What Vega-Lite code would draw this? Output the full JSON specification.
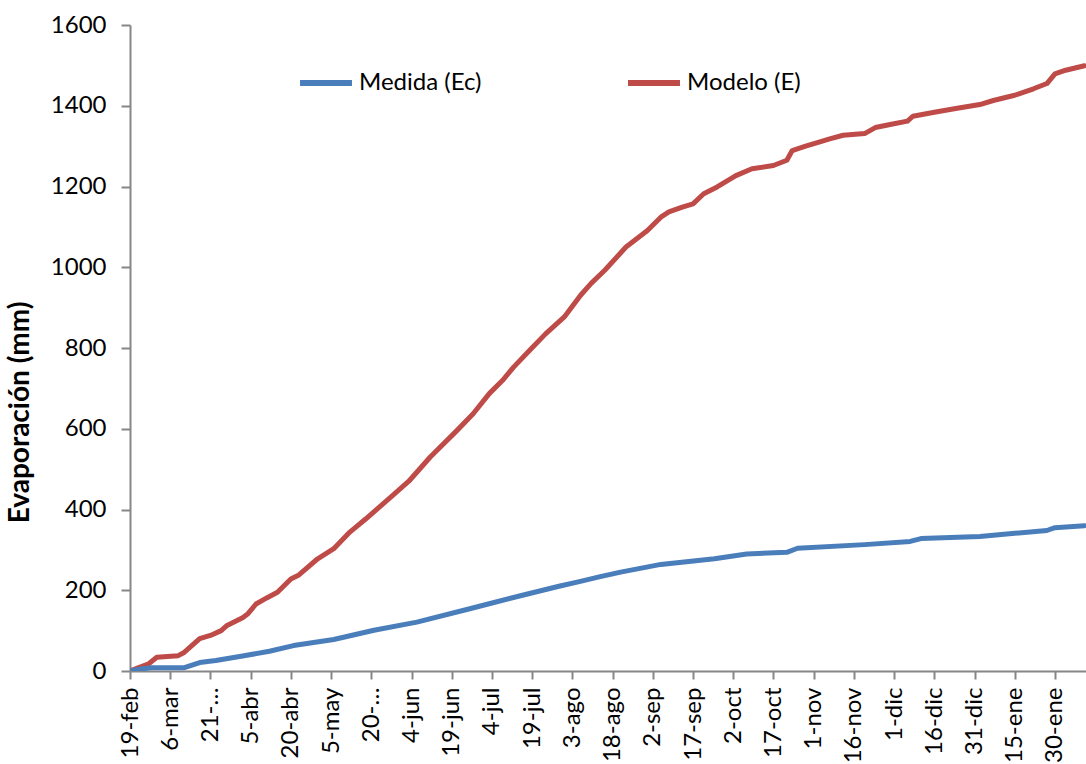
{
  "$schema": "https://vega.github.io/schema/vega-lite/v6.json",
  "width": 956,
  "height": 646,
  "autosize": {"type": "none"},
  "padding": {"left": 130, "top": 25, "right": 0, "bottom": 93},
  "background": "white",
  "data": {
    "values": [
      {"serie": "Modelo (E)", "fecha": "2013/02/19", "evap": 0},
      {"serie": "Modelo (E)", "fecha": "2013/02/23", "evap": 10},
      {"serie": "Modelo (E)", "fecha": "2013/02/26", "evap": 18},
      {"serie": "Modelo (E)", "fecha": "2013/03/01", "evap": 34},
      {"serie": "Modelo (E)", "fecha": "2013/03/09", "evap": 38},
      {"serie": "Modelo (E)", "fecha": "2013/03/11", "evap": 45},
      {"serie": "Modelo (E)", "fecha": "2013/03/17", "evap": 80},
      {"serie": "Modelo (E)", "fecha": "2013/03/21", "evap": 88},
      {"serie": "Modelo (E)", "fecha": "2013/03/25", "evap": 100},
      {"serie": "Modelo (E)", "fecha": "2013/03/27", "evap": 112},
      {"serie": "Modelo (E)", "fecha": "2013/04/02", "evap": 132},
      {"serie": "Modelo (E)", "fecha": "2013/04/04", "evap": 142},
      {"serie": "Modelo (E)", "fecha": "2013/04/07", "evap": 166},
      {"serie": "Modelo (E)", "fecha": "2013/04/11", "evap": 181},
      {"serie": "Modelo (E)", "fecha": "2013/04/15", "evap": 195},
      {"serie": "Modelo (E)", "fecha": "2013/04/20", "evap": 228},
      {"serie": "Modelo (E)", "fecha": "2013/04/23", "evap": 238},
      {"serie": "Modelo (E)", "fecha": "2013/04/30", "evap": 278},
      {"serie": "Modelo (E)", "fecha": "2013/05/06", "evap": 303},
      {"serie": "Modelo (E)", "fecha": "2013/05/12", "evap": 344},
      {"serie": "Modelo (E)", "fecha": "2013/05/18", "evap": 377},
      {"serie": "Modelo (E)", "fecha": "2013/05/23", "evap": 406},
      {"serie": "Modelo (E)", "fecha": "2013/05/28", "evap": 435},
      {"serie": "Modelo (E)", "fecha": "2013/06/03", "evap": 470},
      {"serie": "Modelo (E)", "fecha": "2013/06/11", "evap": 530},
      {"serie": "Modelo (E)", "fecha": "2013/06/21", "evap": 596},
      {"serie": "Modelo (E)", "fecha": "2013/06/27", "evap": 637},
      {"serie": "Modelo (E)", "fecha": "2013/07/03", "evap": 687},
      {"serie": "Modelo (E)", "fecha": "2013/07/08", "evap": 720},
      {"serie": "Modelo (E)", "fecha": "2013/07/12", "evap": 752},
      {"serie": "Modelo (E)", "fecha": "2013/07/18", "evap": 794},
      {"serie": "Modelo (E)", "fecha": "2013/07/24", "evap": 835},
      {"serie": "Modelo (E)", "fecha": "2013/07/31", "evap": 877},
      {"serie": "Modelo (E)", "fecha": "2013/08/06", "evap": 930},
      {"serie": "Modelo (E)", "fecha": "2013/08/10", "evap": 960},
      {"serie": "Modelo (E)", "fecha": "2013/08/15", "evap": 992},
      {"serie": "Modelo (E)", "fecha": "2013/08/23", "evap": 1050},
      {"serie": "Modelo (E)", "fecha": "2013/08/31", "evap": 1091},
      {"serie": "Modelo (E)", "fecha": "2013/09/05", "evap": 1124},
      {"serie": "Modelo (E)", "fecha": "2013/09/08", "evap": 1137},
      {"serie": "Modelo (E)", "fecha": "2013/09/13", "evap": 1149},
      {"serie": "Modelo (E)", "fecha": "2013/09/17", "evap": 1157},
      {"serie": "Modelo (E)", "fecha": "2013/09/21", "evap": 1182},
      {"serie": "Modelo (E)", "fecha": "2013/09/26", "evap": 1199},
      {"serie": "Modelo (E)", "fecha": "2013/10/03", "evap": 1227},
      {"serie": "Modelo (E)", "fecha": "2013/10/09", "evap": 1244},
      {"serie": "Modelo (E)", "fecha": "2013/10/17", "evap": 1252},
      {"serie": "Modelo (E)", "fecha": "2013/10/22", "evap": 1265},
      {"serie": "Modelo (E)", "fecha": "2013/10/24", "evap": 1289},
      {"serie": "Modelo (E)", "fecha": "2013/10/29", "evap": 1300},
      {"serie": "Modelo (E)", "fecha": "2013/11/03", "evap": 1310},
      {"serie": "Modelo (E)", "fecha": "2013/11/07", "evap": 1318},
      {"serie": "Modelo (E)", "fecha": "2013/11/12", "evap": 1327},
      {"serie": "Modelo (E)", "fecha": "2013/11/20", "evap": 1331},
      {"serie": "Modelo (E)", "fecha": "2013/11/24", "evap": 1346},
      {"serie": "Modelo (E)", "fecha": "2013/11/30", "evap": 1354},
      {"serie": "Modelo (E)", "fecha": "2013/12/06", "evap": 1362},
      {"serie": "Modelo (E)", "fecha": "2013/12/08", "evap": 1374},
      {"serie": "Modelo (E)", "fecha": "2013/12/16", "evap": 1384},
      {"serie": "Modelo (E)", "fecha": "2013/12/24", "evap": 1393},
      {"serie": "Modelo (E)", "fecha": "2014/01/02", "evap": 1403},
      {"serie": "Modelo (E)", "fecha": "2014/01/07", "evap": 1413},
      {"serie": "Modelo (E)", "fecha": "2014/01/15", "evap": 1426},
      {"serie": "Modelo (E)", "fecha": "2014/01/22", "evap": 1442},
      {"serie": "Modelo (E)", "fecha": "2014/01/27", "evap": 1455},
      {"serie": "Modelo (E)", "fecha": "2014/01/30", "evap": 1479},
      {"serie": "Modelo (E)", "fecha": "2014/02/03", "evap": 1488},
      {"serie": "Modelo (E)", "fecha": "2014/02/10", "evap": 1499},
      {"serie": "Medida (Ec)", "fecha": "2013/02/19", "evap": 0},
      {"serie": "Medida (Ec)", "fecha": "2013/02/23", "evap": 5},
      {"serie": "Medida (Ec)", "fecha": "2013/02/27", "evap": 8},
      {"serie": "Medida (Ec)", "fecha": "2013/03/11", "evap": 8},
      {"serie": "Medida (Ec)", "fecha": "2013/03/17", "evap": 21},
      {"serie": "Medida (Ec)", "fecha": "2013/03/23", "evap": 26},
      {"serie": "Medida (Ec)", "fecha": "2013/04/02", "evap": 37},
      {"serie": "Medida (Ec)", "fecha": "2013/04/12", "evap": 49},
      {"serie": "Medida (Ec)", "fecha": "2013/04/21", "evap": 63},
      {"serie": "Medida (Ec)", "fecha": "2013/05/06", "evap": 78},
      {"serie": "Medida (Ec)", "fecha": "2013/05/21", "evap": 101},
      {"serie": "Medida (Ec)", "fecha": "2013/06/06", "evap": 121},
      {"serie": "Medida (Ec)", "fecha": "2013/06/25", "evap": 153},
      {"serie": "Medida (Ec)", "fecha": "2013/07/15", "evap": 187},
      {"serie": "Medida (Ec)", "fecha": "2013/07/29", "evap": 210},
      {"serie": "Medida (Ec)", "fecha": "2013/08/06", "evap": 222},
      {"serie": "Medida (Ec)", "fecha": "2013/08/13", "evap": 233},
      {"serie": "Medida (Ec)", "fecha": "2013/08/21", "evap": 245},
      {"serie": "Medida (Ec)", "fecha": "2013/09/05", "evap": 264},
      {"serie": "Medida (Ec)", "fecha": "2013/09/25", "evap": 278},
      {"serie": "Medida (Ec)", "fecha": "2013/10/07", "evap": 290},
      {"serie": "Medida (Ec)", "fecha": "2013/10/22", "evap": 294},
      {"serie": "Medida (Ec)", "fecha": "2013/10/26", "evap": 304},
      {"serie": "Medida (Ec)", "fecha": "2013/11/20", "evap": 313},
      {"serie": "Medida (Ec)", "fecha": "2013/12/07", "evap": 321},
      {"serie": "Medida (Ec)", "fecha": "2013/12/11", "evap": 328},
      {"serie": "Medida (Ec)", "fecha": "2014/01/02", "evap": 333},
      {"serie": "Medida (Ec)", "fecha": "2014/01/15", "evap": 341},
      {"serie": "Medida (Ec)", "fecha": "2014/01/27", "evap": 348},
      {"serie": "Medida (Ec)", "fecha": "2014/01/30", "evap": 355},
      {"serie": "Medida (Ec)", "fecha": "2014/02/10", "evap": 360}
    ]
  },
  "mark": {"type": "line", "strokeWidth": 5, "strokeCap": "round", "strokeJoin": "round", "clip": true},
  "encoding": {
    "x": {
      "field": "fecha",
      "type": "temporal",
      "scale": {"domain": [{"year": 2013, "month": 2, "date": 19}, {"year": 2014, "month": 2, "date": 10, "hours": 14}]},
      "axis": {
        "title": null,
        "grid": false,
        "values": [
          {"year": 2013, "month": 2, "date": 19}, {"year": 2013, "month": 3, "date": 6}, {"year": 2013, "month": 3, "date": 21},
          {"year": 2013, "month": 4, "date": 5}, {"year": 2013, "month": 4, "date": 20}, {"year": 2013, "month": 5, "date": 5},
          {"year": 2013, "month": 5, "date": 20}, {"year": 2013, "month": 6, "date": 4}, {"year": 2013, "month": 6, "date": 19},
          {"year": 2013, "month": 7, "date": 4}, {"year": 2013, "month": 7, "date": 19}, {"year": 2013, "month": 8, "date": 3},
          {"year": 2013, "month": 8, "date": 18}, {"year": 2013, "month": 9, "date": 2}, {"year": 2013, "month": 9, "date": 17},
          {"year": 2013, "month": 10, "date": 2}, {"year": 2013, "month": 10, "date": 17}, {"year": 2013, "month": 11, "date": 1},
          {"year": 2013, "month": 11, "date": 16}, {"year": 2013, "month": 12, "date": 1}, {"year": 2013, "month": 12, "date": 16},
          {"year": 2013, "month": 12, "date": 31}, {"year": 2014, "month": 1, "date": 15}, {"year": 2014, "month": 1, "date": 30}
        ],
        "labelExpr": "((date(datum.value) == 21 && month(datum.value) == 2) || (date(datum.value) == 20 && month(datum.value) == 4)) ? date(datum.value) + '-…' : date(datum.value) + '-' + ['ene','feb','mar','abr','may','jun','jul','ago','sep','oct','nov','dic'][month(datum.value)]",
        "labelAngle": 270,
        "labelFont": "Lato",
        "labelFontSize": 24,
        "labelColor": "#000000",
        "labelPadding": 8,
        "labelOverlap": false,
        "labelFlush": false,
        "tickSize": 8,
        "tickColor": "#868686",
        "tickWidth": 2,
        "domainColor": "#868686",
        "domainWidth": 2
      }
    },
    "y": {
      "field": "evap",
      "type": "quantitative",
      "scale": {"domain": [0, 1600], "nice": false},
      "axis": {
        "title": "Evaporación (mm)",
        "titleFont": "Lato",
        "titleFontSize": 28,
        "titleFontWeight": "bold",
        "titleColor": "#000000",
        "titleX": -110,
        "titleY": 387,
        "titleAngle": 270,
        "titleAlign": "center",
        "titleBaseline": "middle",
        "grid": false,
        "format": "d",
        "values": [0, 200, 400, 600, 800, 1000, 1200, 1400, 1600],
        "labelFont": "Lato",
        "labelFontSize": 24,
        "labelColor": "#000000",
        "labelPadding": 15,
        "tickSize": 9,
        "tickColor": "#868686",
        "tickWidth": 2,
        "domainColor": "#868686",
        "domainWidth": 2
      }
    },
    "color": {
      "field": "serie",
      "type": "nominal",
      "scale": {"domain": ["Medida (Ec)", "Modelo (E)"], "range": ["#4A7EBB", "#BE4B48"]},
      "legend": {
        "title": null,
        "orient": "none",
        "legendX": 167,
        "legendY": 29,
        "direction": "horizontal",
        "symbolType": "stroke",
        "symbolSize": 2700,
        "symbolStrokeWidth": 6,
        "labelFont": "Lato",
        "labelFontSize": 24,
        "labelColor": "#000000",
        "labelOffset": 4,
        "columnPadding": 134
      }
    }
  },
  "config": {
    "view": {"stroke": null}
  }
}
